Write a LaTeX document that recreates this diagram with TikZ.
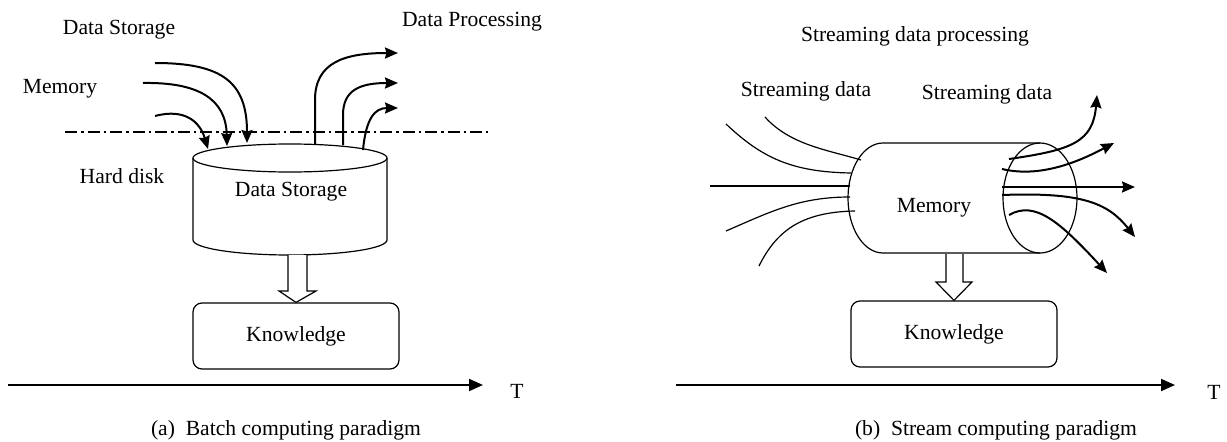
\documentclass[tikz,border=0pt]{standalone}
\usepackage{fontspec}
\setmainfont{Liberation Serif}
\usetikzlibrary{arrows.meta}
\begin{document}
\begin{tikzpicture}[x=1pt,y=-1pt,
  txt/.style={font=\fontsize{21.6}{25}\selectfont, inner sep=0pt},
  thickarrow/.style={line width=2pt, -{Stealth[length=13pt,width=11pt,inset=1.5pt]}},
  thinline/.style={line width=1.2pt},
  outline/.style={line width=1.2pt},
  kbox/.style={draw, line width=1.2pt, rounded corners=9pt, minimum width=206pt, minimum height=66pt, txt},
  hollow/.style={draw, line width=1.2pt, fill=white, line join=miter}
]
\useasboundingbox (0,0) rectangle (1227,442);

% ================= (a) Batch =================
\node[txt] (dsl) at (119,30) {Data Storage};
\node[txt] (dpl) at (472,22) {Data Processing};
\node[txt] (meml) at (60,89) {Memory};
\node[txt] (hdl) at (122,176) {Hard disk};

% dash-dot separator
\coordinate (sepL) at (65,132);
\coordinate (sepR) at (488,132);
\draw[line width=1.1pt, dash pattern=on 12pt off 4pt on 2.5pt off 4pt] (sepL) -- (sepR);

% cylinder
\draw[outline, fill=white] (193,158) -- (193,240) arc[start angle=180, end angle=0, x radius=97, y radius=15] -- (387,158);
\draw[outline] (290,158) ellipse [x radius=97, y radius=14];
\node[txt] (dsin) at (291,192) {Data Storage};

% incoming arrows
\coordinate (in1s) at (155,63);  \coordinate (in1e) at (247,143);
\coordinate (in2s) at (143,83);  \coordinate (in2e) at (227,146);
\coordinate (in3s) at (155,116); \coordinate (in3e) at (208,149);
\draw[thickarrow] (in1s) .. controls (222,63) and (247,82) .. (in1e);
\draw[thickarrow] (in2s) .. controls (200,82) and (226,100) .. (in2e);
\draw[thickarrow] (in3s) .. controls (185,108) and (200,122) .. (in3e);

% outgoing arrows
\coordinate (out1s) at (315,144); \coordinate (out1e) at (398,53);
\coordinate (out2s) at (343,145); \coordinate (out2e) at (398,83);
\coordinate (out3s) at (363,150); \coordinate (out3e) at (398,108);
\draw[thickarrow] (out1s) -- (315,100) .. controls (315,62) and (345,53) .. (out1e);
\draw[thickarrow] (out2s) -- (343,115) .. controls (343,90) and (360,83) .. (out2e);
\draw[thickarrow] (out3s) .. controls (366,118) and (375,108) .. (out3e);

% hollow arrow to knowledge
\node[kbox] (ka) at (296,336) {Knowledge};
\draw[hollow] (288,255) -- (288,291) -- (279,291) -- (ka.north) -- (316,291) -- (307,291) -- (307,255);

% time axis
\coordinate (ta0) at (8,385);
\coordinate (ta1) at (483,385);
\draw[line width=2pt, -{Stealth[length=14pt,width=12pt,inset=0pt]}] (ta0) -- (ta1);
\node[txt] (Ta) at (517,391) {T};
\node[txt] (capa) at (286,430) {(a)\enspace Batch computing paradigm};

% ================= (b) Stream =================
\node[txt] (sdp) at (915,36) {Streaming data processing};
\node[txt] (sd1) at (806,91) {Streaming data};
\node[txt] (sd2) at (987,94) {Streaming data};

% incoming thin lines
\coordinate (l1s) at (765,117); \coordinate (l1e) at (861,160);
\coordinate (l2s) at (726,124); \coordinate (l2e) at (851,173);
\coordinate (l3s) at (710,186); \coordinate (l3e) at (850,186);
\coordinate (l4s) at (726,231); \coordinate (l4e) at (850,197);
\coordinate (l5s) at (759,266); \coordinate (l5e) at (855,211);
\draw[thinline] (l1s) .. controls (790,145) and (828,150) .. (l1e);
\draw[thinline] (l2s) .. controls (762,158) and (792,172) .. (l2e);
\draw[thinline] (l3s) -- (l3e);
\draw[thinline] (l4s) .. controls (772,211) and (800,197) .. (l4e);
\draw[thinline] (l5s) .. controls (776,232) and (800,212) .. (l5e);

% horizontal cylinder
\draw[outline] (1040,143) -- (883,143) arc[start angle=270, end angle=90, x radius=35, y radius=55] -- (1040,253);
\draw[outline] (1040,198) ellipse [x radius=37, y radius=55];
\node[txt] (memr) at (934,208) {Memory};

% outgoing arrows
\coordinate (o1s) at (1009,159); \coordinate (o1e) at (1097,95);
\coordinate (o2s) at (1002,169); \coordinate (o2e) at (1114,143);
\coordinate (o3s) at (1002,187); \coordinate (o3e) at (1135,187);
\coordinate (o4s) at (1002,195); \coordinate (o4e) at (1135,237);
\coordinate (o5s) at (1009,215); \coordinate (o5e) at (1107,273);
\draw[thickarrow] (o1s) .. controls (1072,150) and (1093,142) .. (o1e);
\draw[thickarrow] (o2s) .. controls (1040,178) and (1078,162) .. (o2e);
\draw[thickarrow] (o3s) -- (o3e);
\draw[thickarrow] (o4s) .. controls (1082,192) and (1108,203) .. (o4e);
\draw[thickarrow] (o5s) .. controls (1035,200) and (1060,222) .. (o5e);

% hollow arrow to knowledge
\node[kbox] (kb) at (954,334) {Knowledge};
\draw[hollow] (946,254) -- (946,282) -- (936,282) -- (kb.north) -- (972,282) -- (963,282) -- (963,254);

% time axis
\coordinate (tb0) at (676,385);
\coordinate (tb1) at (1175,385);
\draw[line width=2pt, -{Stealth[length=14pt,width=12pt,inset=0pt]}] (tb0) -- (tb1);
\node[txt] (Tb) at (1214,392) {T};
\node[txt] (capb) at (996,430) {(b)\enspace Stream computing paradigm};
\end{tikzpicture}
\end{document}
